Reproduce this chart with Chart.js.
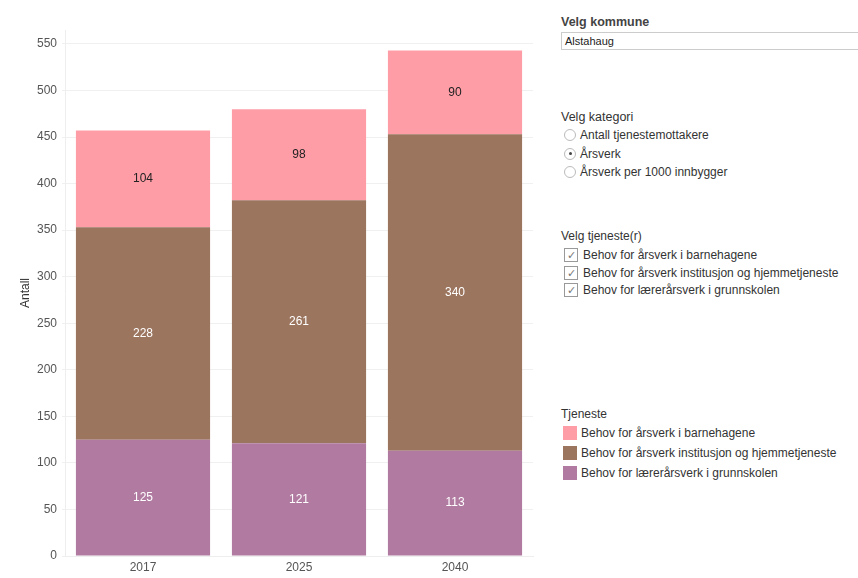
<!DOCTYPE html>
<html>
<head>
<meta charset="utf-8">
<script src="https://cdn.jsdelivr.net/npm/chart.js@4.4.0/dist/chart.umd.min.js"></script>
<style>
  body { margin: 0; background: #fff; font-family: Arial, "Liberation Sans", sans-serif; color: #333; }
  #wrap { position: relative; width: 858px; height: 578px; overflow: hidden; }
  #chartBox { position: absolute; left: 0; top: 0; width: 545px; height: 578px; }
  .lbl { position: absolute; left: 561px; font-size: 12px; line-height: 16px; white-space: nowrap; }
  .head { font-size: 12.5px; }
  .bold { font-weight: bold; color: #444; }
  #select { position: absolute; left: 561px; top: 32px; width: 300px; height: 18px; border: 1px solid #ccc; box-sizing: border-box; font-size: 11px; line-height: 16px; padding-left: 3px; color: #222; }
  .radio { position: absolute; left: 564px; width: 12px; height: 12px; border: 1px solid #bbb; border-radius: 50%; box-sizing: border-box; }
  .radio.on::after { content: ""; position: absolute; left: 3.5px; top: 3.5px; width: 3px; height: 3px; border-radius: 50%; background: #444; }
  .check { position: absolute; left: 564px; width: 14px; height: 14px; border: 1px solid #999; box-sizing: border-box; font-size: 11px; line-height: 12px; text-align: center; color: #777; }
  .swatch { position: absolute; left: 563px; width: 14px; height: 14px; }
</style>
</head>
<body>
<div id="wrap">
  <div id="chartBox"><canvas id="chart"></canvas></div>
  <div id="panel"></div>
</div>
<script>
// Data
const years = ['2017', '2025', '2040'];
const seriesNames = [
  'Behov for årsverk i barnehagene',
  'Behov for årsverk institusjon og hjemmetjeneste',
  'Behov for lærerårsverk i grunnskolen'
];
const barnehage = [104, 98, 90];
const institusjon = [228, 261, 340];
const grunnskole = [125, 121, 113];
const seriesColors = ['#FF9DA7', '#9C755F', '#B07AA1'];
const labelColors = ['#222222', '#ffffff', '#ffffff'];
const yTicks = [0, 50, 100, 150, 200, 250, 300, 350, 400, 450, 500, 550];

const kategorier = ['Antall tjenestemottakere', 'Årsverk', 'Årsverk per 1000 innbygger'];
const valgtKategori = 1;

// Right-hand panel (filters + legend)
const panel = document.getElementById('panel');
function add(html) { panel.insertAdjacentHTML('beforeend', html); }

add('<div class="lbl head bold" style="top:14px">Velg kommune</div>');
add('<div id="select">Alstahaug</div>');
add('<div class="lbl head" style="top:109px">Velg kategori</div>');
kategorier.forEach(function (k, i) {
  const c = 135 + i * 18.5;
  add('<div class="radio' + (i === valgtKategori ? ' on' : '') + '" style="top:' + (c - 6) + 'px"></div>');
  add('<div class="lbl" style="left:580px;top:' + (c - 8) + 'px">' + k + '</div>');
});
add('<div class="lbl" style="top:228px">Velg tjeneste(r)</div>');
seriesNames.forEach(function (s, i) {
  const c = 255 + i * 17.5;
  add('<div class="check" style="top:' + (c - 7) + 'px">&#10003;</div>');
  add('<div class="lbl" style="left:583px;top:' + (c - 8) + 'px">' + s + '</div>');
});
add('<div class="lbl" style="top:406px">Tjeneste</div>');
seriesNames.forEach(function (s, i) {
  const c = 433 + i * 20;
  add('<div class="swatch" style="top:' + (c - 7) + 'px;background:' + seriesColors[i] + '"></div>');
  add('<div class="lbl" style="left:581px;top:' + (c - 8) + 'px">' + s + '</div>');
});

// Plugin drawing the value in the middle of every segment
const segmentLabels = {
  id: 'segmentLabels',
  afterDatasetsDraw(chart) {
    const ctx = chart.ctx;
    ctx.save();
    ctx.font = '12px Arial, "Liberation Sans", sans-serif';
    ctx.textAlign = 'center';
    ctx.textBaseline = 'middle';
    chart.data.datasets.forEach(function (ds, di) {
      chart.getDatasetMeta(di).data.forEach(function (bar, i) {
        ctx.fillStyle = ds.valueColor;
        ctx.fillText(String(ds.data[i]), bar.x, (bar.y + bar.base) / 2);
      });
    });
    ctx.restore();
  }
};

// bottom to top: grunnskole, institusjon, barnehage
const order = [2, 1, 0];
const values = [barnehage, institusjon, grunnskole];

const ctx = document.getElementById('chart').getContext('2d');
new Chart(ctx, {
  type: 'bar',
  data: {
    labels: years,
    datasets: order.map(function (k) {
      return {
        label: seriesNames[k],
        data: values[k],
        backgroundColor: seriesColors[k],
        valueColor: labelColors[k],
        categoryPercentage: 1,
        barPercentage: 0.86,
        borderWidth: 0
      };
    })
  },
  options: {
    responsive: true,
    maintainAspectRatio: false,
    animation: false,
    layout: { padding: { top: 30, right: 12, left: 0, bottom: 0 } },
    plugins: { legend: { display: false }, tooltip: { enabled: false } },
    scales: {
      x: {
        stacked: true,
        grid: { display: false, drawTicks: false, tickLength: 0 },
        border: { color: '#eeeeee' },
        ticks: { color: '#555', font: { size: 12, family: 'Arial, "Liberation Sans", sans-serif' }, padding: 4 },
        afterFit(scale) { scale.height = 22; }
      },
      y: {
        stacked: true,
        min: 0,
        max: 565,
        afterBuildTicks(scale) { scale.ticks = yTicks.map(function (v) { return { value: v }; }); },
        grid: { color: '#f0f0f0', tickLength: 3 },
        border: { color: '#eeeeee' },
        ticks: { color: '#555', font: { size: 12, family: 'Arial, "Liberation Sans", sans-serif' }, padding: 5 },
        title: { display: true, text: 'Antall', color: '#333', font: { size: 12, family: 'Arial, "Liberation Sans", sans-serif' }, padding: { top: 18, bottom: 0 } },
        afterFit(scale) { scale.width = 65; }
      }
    }
  },
  plugins: [segmentLabels]
});
</script>
</body>
</html>
